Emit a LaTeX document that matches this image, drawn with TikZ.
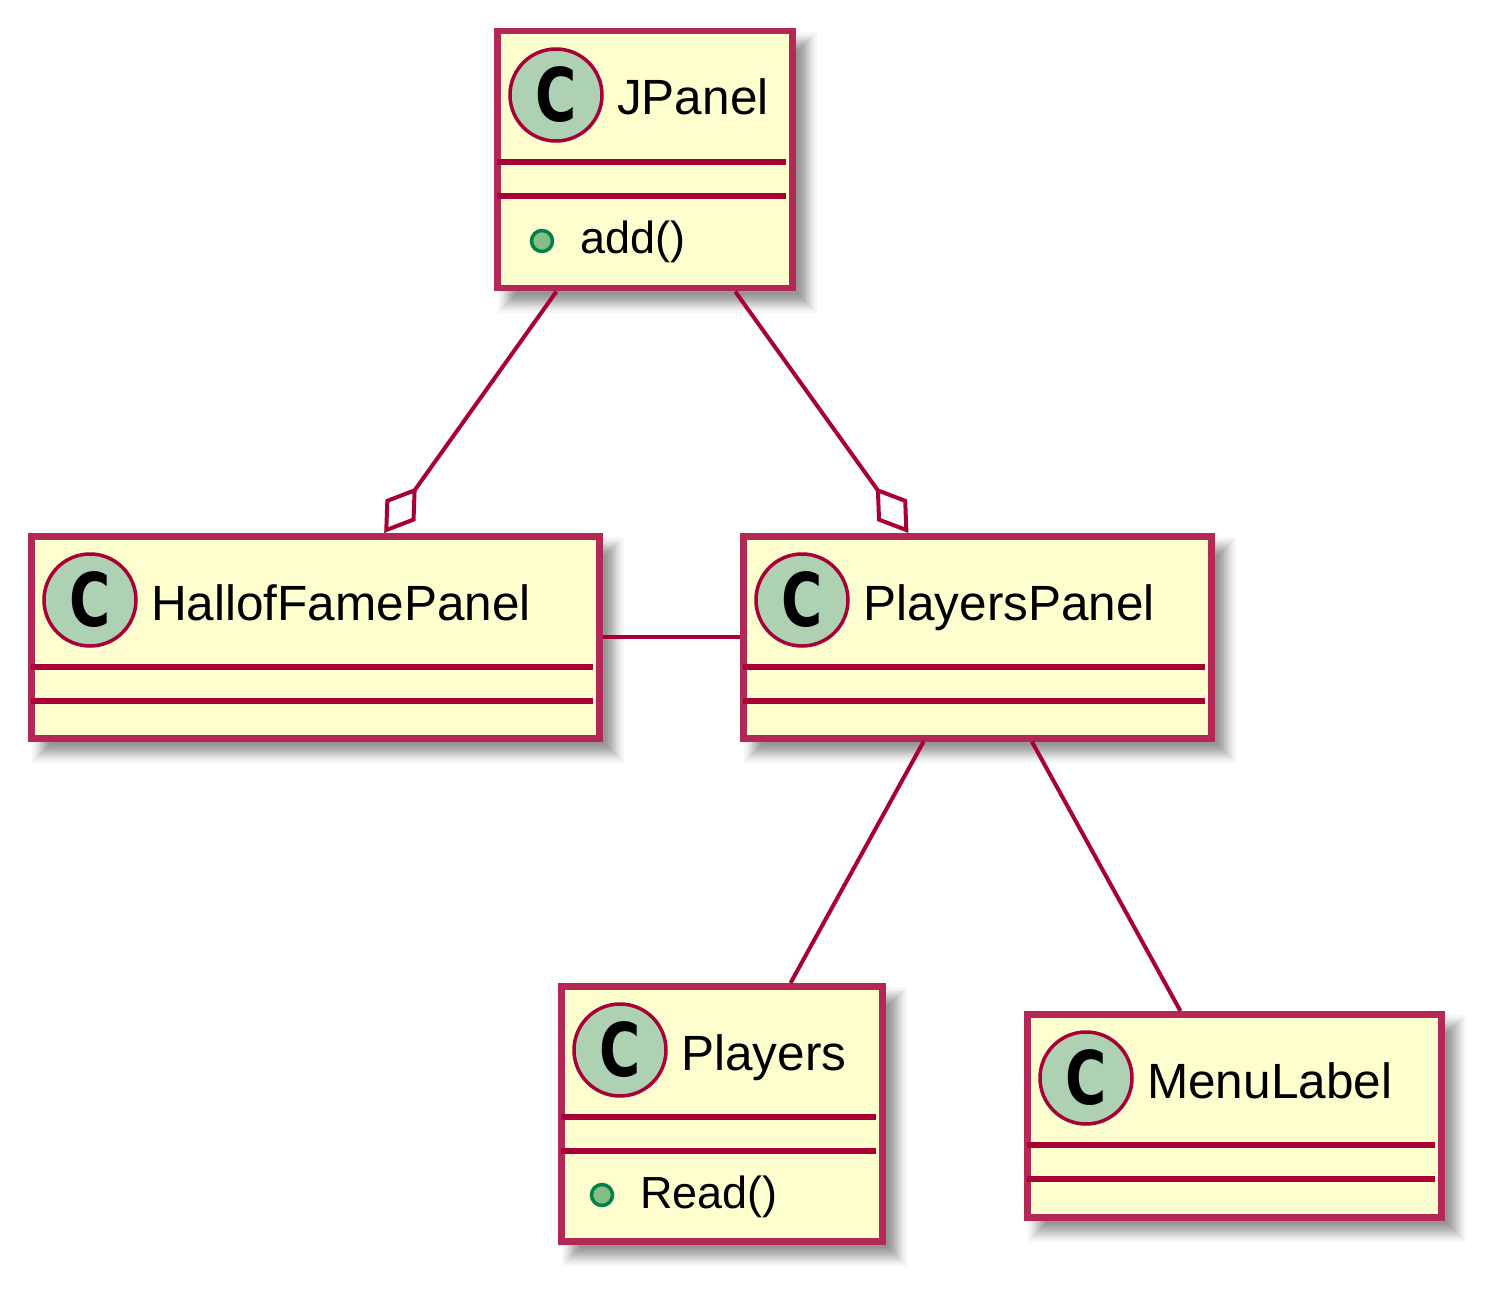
\documentclass[tikz,border=0pt]{standalone}
\usepackage{fontspec}
\setmainfont{Liberation Sans}
\newfontfamily\cfont{DejaVu Sans}
\usetikzlibrary{arrows.meta,calc}
\definecolor{umlred}{RGB}{168,0,54}
\definecolor{umlborder}{RGB}{180,40,85}
\definecolor{umlfill}{RGB}{254,254,206}
\definecolor{umlcirc}{RGB}{173,209,178}
\definecolor{bulletfill}{RGB}{132,190,132}
\definecolor{bulletline}{RGB}{3,128,72}
\tikzset{
  classbox/.style={draw=umlborder, fill=umlfill, line width=6.5pt, inner sep=0pt, rectangle},
  sepline/.style={draw=umlred, line width=6pt},
  circ/.style={circle, draw=umlred, fill=umlcirc, line width=3.5pt, minimum size=92pt, inner sep=0pt},
  cglyph/.style={inner sep=0pt, font=\cfont\fontsize{74}{74}\selectfont\bfseries, xscale=0.76},
  namelabel/.style={anchor=base west, inner sep=0pt, font=\fontsize{49.5}{59}\selectfont},
  methlabel/.style={anchor=base west, inner sep=0pt, font=\fontsize{45}{54}\selectfont},
  bullet/.style={circle, draw=bulletline, fill=bulletfill, line width=3.5pt, minimum size=21pt, inner sep=0pt},
  assoc/.style={draw=umlred, line width=4pt},
  aggr/.style={assoc, -{Diamond[open, fill=white, length=56pt, width=37pt]}}
}
\newcommand{\umlclass}[6]{%
  \foreach \e/\k in {12/3,10/6,8/10,6/15,4/20,2/25,0/30,-2/34,-4/38,-6/41}
    \fill[black!\k] (#2+16-\e,#3+16-\e) rectangle (#2+#4+16+\e,#3+#5+16+\e);
  \node[classbox, minimum width=#4pt, minimum height=#5pt, anchor=north west] (#1) at (#2,#3) {};
  \draw[sepline] (#2+3,#3+134) -- (#2+#4-3,#3+134);
  \draw[sepline] (#2+3,#3+168) -- (#2+#4-3,#3+168);
  \node[circ] (#1-c) at (#2+62,#3+67) {};
  \node[cglyph] (#1-g) at (#1-c) {C};
  \node[namelabel] (#1-n) at (#2+123,#3+87) {#6};
}
\begin{document}
\begin{tikzpicture}[x=1pt,y=-1pt]
  \fill[white] (0,0) rectangle (1492,1292);
  \useasboundingbox (0,0) rectangle (1492,1292);

  \umlclass{jp}{494}{28}{295}{257}{JPanel}
  \node[bullet] (jp-b) at (542,241) {};
  \node[methlabel] (jp-m) at (580,254) {add()};

  \umlclass{hof}{28}{533}{568}{202}{HallofFamePanel}
  \umlclass{pp}{740}{533}{468}{202}{PlayersPanel}

  \umlclass{pl}{558}{983}{321}{255}{Players}
  \node[bullet] (pl-b) at (602,1195) {};
  \node[methlabel] (pl-m) at (640,1208) {Read()};

  \umlclass{ml}{1024}{1011}{414}{203}{MenuLabel}

  \draw[aggr] ($(jp.south west)!0.207!(jp.south east)$) -- ($(hof.north west)!0.62!(hof.north east)$);
  \draw[aggr] ($(jp.south west)!0.8!(jp.south east)$) -- ($(pp.north west)!0.355!(pp.north east)$);
  \draw[assoc] (hof.east) -- (pp.west);
  \draw[assoc] ($(pp.south west)!0.387!(pp.south east)$) -- ($(pl.north west)!0.71!(pl.north east)$);
  \draw[assoc] ($(pp.south west)!0.615!(pp.south east)$) -- ($(ml.north west)!0.372!(ml.north east)$);
\end{tikzpicture}
\end{document}
